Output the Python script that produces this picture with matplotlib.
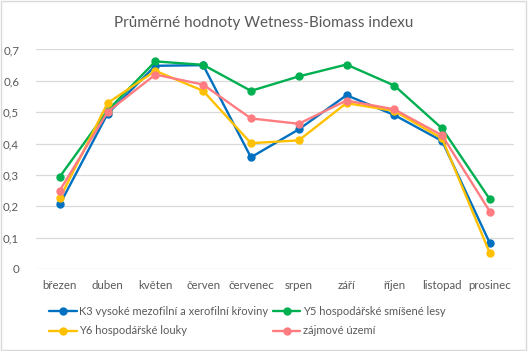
import matplotlib.pyplot as plt
from matplotlib.patches import Rectangle

plt.rcParams['font.family'] = ['Lato', 'DejaVu Sans']

mesice = ['březen', 'duben', 'květen', 'červen', 'červenec', 'srpen',
          'září', 'říjen', 'listopad', 'prosinec']

k3 = [0.206, 0.495, 0.648, 0.650, 0.356, 0.445, 0.554, 0.491, 0.408, 0.082]
y5 = [0.294, 0.505, 0.662, 0.651, 0.568, 0.614, 0.652, 0.585, 0.448, 0.222]
y6 = [0.225, 0.529, 0.632, 0.568, 0.401, 0.410, 0.529, 0.504, 0.416, 0.050]
zajm = [0.250, 0.501, 0.620, 0.588, 0.480, 0.463, 0.537, 0.509, 0.426, 0.183]

nazvy = ['K3 vysoké mezofilní a xerofilní křoviny',
         'Y5 hospodářské smíšené lesy',
         'Y6 hospodářské louky',
         'zájmové území']
barvy = ['#0070C0', '#00B050', '#FFC000', '#FF7C80']
yticks = [0, 0.1, 0.2, 0.3, 0.4, 0.5, 0.6, 0.7]

fig = plt.figure(figsize=(5.28, 3.51), dpi=100)
ax = fig.add_axes([0.068, 0.234, 0.905, 0.625])

x = range(len(mesice))
cary = []
for serie, nazev, barva in zip([k3, y5, y6, zajm], nazvy, barvy):
    ln, = ax.plot(x, serie, color=barva, lw=1.7, marker='o', ms=5,
                  label=nazev, solid_capstyle='round', zorder=3)
    cary.append(ln)

ax.set_xlim(-0.5, len(mesice) - 0.5)
ax.set_ylim(0, 0.7)
ax.set_yticks(yticks)
ax.set_yticklabels([('%.1f' % v).replace('.', ',') if v else '0' for v in yticks])
ax.set_xticks(list(x))
ax.set_xticklabels(mesice)
ax.tick_params(length=0, labelsize=8.3, colors='#595959', pad=8)
ax.tick_params(axis='y', pad=12)
ax.grid(axis='y', color='#D9D9D9', lw=0.9)
ax.set_axisbelow(True)
for s in ax.spines.values():
    s.set_visible(False)

fig.text(0.5, 0.935, 'Průměrné hodnoty Wetness-Biomass indexu',
         ha='center', va='center', fontsize=11, color='#595959')

poradi = [0, 2, 1, 3]
fig.legend([cary[i] for i in poradi], [nazvy[i] for i in poradi],
           ncol=2, loc='upper left', bbox_to_anchor=(0.093, 0.128),
           frameon=False, fontsize=8, labelcolor='#595959',
           handlelength=2.5, handletextpad=0.2, columnspacing=0.4,
           labelspacing=0.75, borderaxespad=0, borderpad=0)

fig.patches.append(Rectangle((0.002, 0.003), 0.995, 0.994,
                             transform=fig.transFigure, fill=False,
                             edgecolor='#D9D9D9', lw=1))

fig.savefig('out.png', dpi=100)
